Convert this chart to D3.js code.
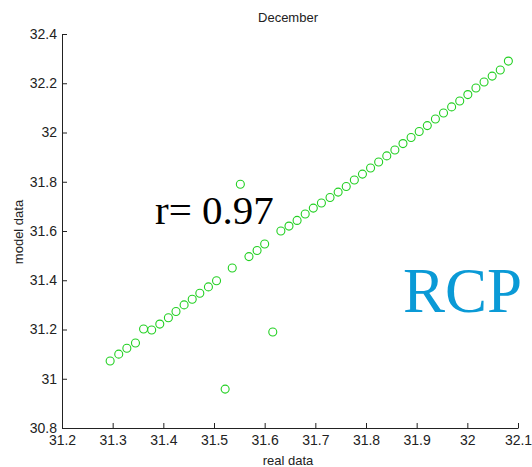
<!DOCTYPE html>
<html>
<head>
<meta charset="utf-8">
<script src="https://cdn.jsdelivr.net/npm/d3@7"></script>
<style>
  body { margin: 0; background: #fff; }
  svg { display: block; }
  .axis text { font-family: "Liberation Sans", Arial, sans-serif; font-size: 14px; fill: #222; }
  .axis path, .axis line { stroke: #222; stroke-width: 1; }
</style>
</head>
<body>
<svg id="chart" width="532" height="467"></svg>
<script>
// dati (real data / model data)
var realData = [31.295, 31.312, 31.328, 31.345, 31.361, 31.377, 31.393, 31.410, 31.425, 31.441,
                31.457, 31.472, 31.489, 31.505, 31.522, 31.536, 31.552, 31.569, 31.585, 31.600,
                31.616, 31.632, 31.648, 31.664, 31.680, 31.696, 31.712, 31.729, 31.745, 31.761,
                31.777, 31.793, 31.809, 31.825, 31.841, 31.857, 31.873, 31.889, 31.905, 31.921,
                31.937, 31.953, 31.969, 31.985, 32.001, 32.017, 32.033, 32.049, 32.065, 32.081];
var modelData = [31.072, 31.100, 31.124, 31.145, 31.202, 31.198, 31.222, 31.248, 31.273, 31.300,
                 31.323, 31.347, 31.373, 31.398, 30.958, 31.450, 31.790, 31.496, 31.521, 31.547,
                 31.190, 31.600, 31.620, 31.643, 31.669, 31.693, 31.714, 31.736, 31.758, 31.781,
                 31.807, 31.831, 31.856, 31.880, 31.905, 31.929, 31.955, 31.980, 32.004, 32.028,
                 32.055, 32.079, 32.104, 32.128, 32.154, 32.181, 32.205, 32.229, 32.254, 32.290];
var xTicks = [31.2, 31.3, 31.4, 31.5, 31.6, 31.7, 31.8, 31.9, 32, 32.1];
var yTicks = [30.8, 31, 31.2, 31.4, 31.6, 31.8, 32, 32.2, 32.4];

var svg = d3.select("#chart");

var x = d3.scaleLinear().domain([31.2, 32.1]).range([62, 518]);
var y = d3.scaleLinear().domain([30.8, 32.4]).range([428, 34]);

function fmt(d) { return String(+d.toFixed(1)); }

// assi con tacche verso l'interno (stile matlab)
svg.append("g")
    .attr("class", "axis")
    .attr("transform", "translate(0,428)")
    .call(d3.axisBottom(x).tickValues(xTicks).tickFormat(fmt)
        .tickSizeInner(-5).tickSizeOuter(0).tickPadding(7));

svg.append("g")
    .attr("class", "axis")
    .attr("transform", "translate(62,0)")
    .call(d3.axisLeft(y).tickValues(yTicks).tickFormat(fmt)
        .tickSizeInner(-5).tickSizeOuter(0).tickPadding(5));

// titolo e etichette
svg.append("text")
    .attr("x", 288).attr("y", 22)
    .attr("text-anchor", "middle")
    .style("font-family", "Liberation Sans, Arial, sans-serif")
    .style("font-size", "13px").style("fill", "#222")
    .text("December");

svg.append("text")
    .attr("x", 288).attr("y", 465)
    .attr("text-anchor", "middle")
    .style("font-family", "Liberation Sans, Arial, sans-serif")
    .style("font-size", "13px").style("fill", "#222")
    .text("real data");

svg.append("text")
    .attr("transform", "translate(23,232) rotate(-90)")
    .attr("text-anchor", "middle")
    .style("font-family", "Liberation Sans, Arial, sans-serif")
    .style("font-size", "13px").style("fill", "#222")
    .text("model data");

// punti
svg.append("g").selectAll("circle")
    .data(realData)
    .enter()
    .append("circle")
    .attr("cx", function(d) { return x(d); })
    .attr("cy", function(d, i) { return y(modelData[i]); })
    .attr("r", 4)
    .style("fill", "none")
    .style("stroke", "#22d022")
    .style("stroke-width", 1.1);

// annotazioni
svg.append("text")
    .attr("x", 155).attr("y", 224)
    .style("font-family", "Liberation Serif, Times New Roman, serif")
    .style("font-size", "41px").style("fill", "#000")
    .text("r= 0.97");

svg.append("text")
    .attr("x", 403).attr("y", 312)
    .style("font-family", "Liberation Serif, Times New Roman, serif")
    .style("font-size", "63px").style("fill", "#0a9ad6")
    .text("RCP");
</script>
</body>
</html>
